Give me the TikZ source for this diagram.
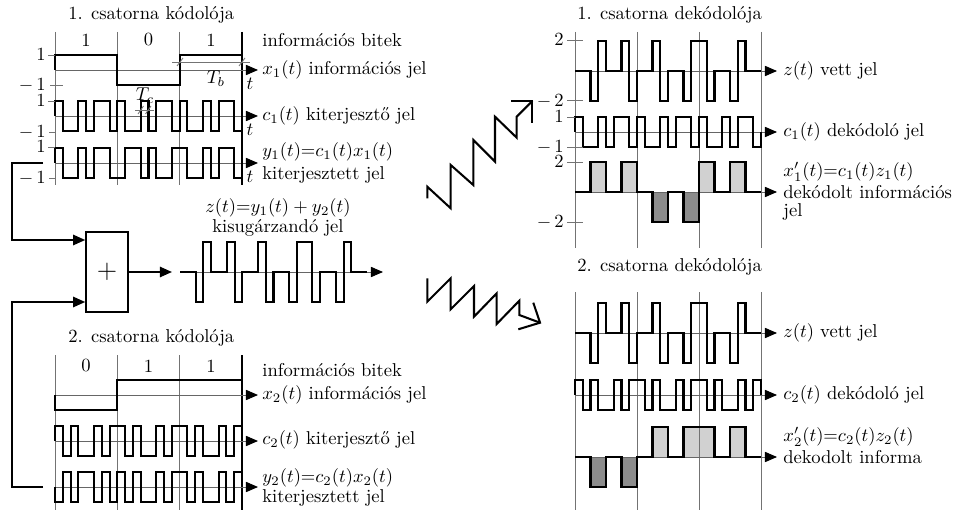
\documentclass[tikz,border=0pt]{standalone}
\usetikzlibrary{arrows.meta,calc}
\newcommand\wave[6]{%
  \edef\wlist{#6}%
  \draw[sig] (#1,#2) foreach \v [count=\i] in \wlist { |- ({#1+\i*#4},{#2-\v*#3}) } |- ({#1+#5*#4},#2);
}
\newcommand\chipfill[6]{% x0,y0,chipw,height(signed px),style,list
  \foreach \k in {#6} { \fill[#5] ({#1+\k*#3},#2) rectangle ({#1+(\k+1)*#3},{#2-#4}); }
}
\begin{document}
\begin{tikzpicture}[x=0.538pt,y=-0.538pt,
  sig/.style={line width=1.1pt},
  gridl/.style={black!55,line width=0.45pt},
  axisl/.style={black!60,line width=0.5pt,-{Triangle[length=6.5pt,width=5.5pt,color=black]}},
  conn/.style={line width=1.1pt,-{Triangle[length=6.5pt,width=5.5pt]}},
  zig/.style={line width=1.1pt,line join=miter},
  lbl/.style={anchor=west,inner sep=0pt},
  tk/.style={anchor=east,inner sep=0pt},
  lightf/.style={fill=black!18},
  darkf/.style={fill=black!45}]
\useasboundingbox (0,0) rectangle (961,510);
\def\cA{1,-1,-1,1,-1,1,1,-1, 1,-1,-1,1,-1,1,1,-1, 1,-1,-1,1,-1,1,1,-1}
\def\cB{1,-1,1,-1,-1,1,-1,1, 1,-1,1,-1,-1,1,-1,1, 1,-1,1,-1,-1,1,-1,1}
\def\yA{1,-1,-1,1,-1,1,1,-1, -1,1,1,-1,1,-1,-1,1, 1,-1,-1,1,-1,1,1,-1}
\def\yB{-1,1,-1,1,1,-1,1,-1, 1,-1,1,-1,-1,1,-1,1, 1,-1,1,-1,-1,1,-1,1}
\def\zz{0,0,-2,2,0,0,2,-2, 0,0,2,-2,0,0,-2,2, 2,-2,0,0,-2,2,0,0}
\def\xA{0,0,2,2,0,0,2,2, 0,0,-2,-2,0,0,-2,-2, 2,2,0,0,2,2,0,0}
\def\xB{0,0,-2,-2,0,0,-2,-2, 0,0,2,2,0,0,2,2, 2,2,0,0,2,2,0,0}

% ================= Encoder 1 =================
\node[lbl] (e1title) at (68,15) {1. csatorna kódolója};
\foreach \x in {55,117.33,179.67} \draw[gridl] (\x,32) -- (\x,185);
\draw[line width=0.6pt] (242,32) -- (242,185);
\node (e1b1) at (86,40) {1};
\node (e1b2) at (148.5,40) {0};
\node (e1b3) at (211,40) {1};
\draw[axisl] (55,70) -- (258,70);
\draw[axisl] (55,116) -- (258,116);
\draw[axisl] (55,163) -- (258,163);
\wave{55}{70}{15}{62.33}{3}{1,-1,1}
\wave{55}{116}{15}{7.79}{24}{\cA}
\wave{55}{163}{15}{7.79}{24}{\yA}
\foreach \y in {55,101,147} \draw[gridl] (48,\y) -- (55,\y);
\draw[gridl] (50,85) -- (63,85);
\foreach \y in {132,178} \draw[gridl] (49,\y) -- (55,\y);
\node[tk] (e1p1) at (46,55) {$1$};
\node[tk] (e1m1) at (46,85) {$-\,1$};
\node[tk] (e1p2) at (46,101) {$1$};
\node[tk] (e1m2) at (46,132) {$-\,1$};
\node[tk] (e1p3) at (46,147) {$1$};
\node[tk] (e1m3) at (46,178) {$-\,1$};
\node (e1t1) at (250,84) {$t$};
\node (e1t2) at (250,130) {$t$};
\node (e1t3) at (250,177) {$t$};
% T_b and T_c
\draw[gridl] (172,62) -- (250,62);
\draw[gridl] (177,66) -- (183,58);
\draw[gridl] (239,66) -- (245,58);
\node (tb) at (216,79) {$T_b$};
\draw[gridl] (135,110) -- (154,110);
\draw[gridl] (138,114) -- (143.5,106);
\draw[gridl] (145.5,114) -- (151,106);
\node (tc) at (145,96) {$T_c$};
% labels
\node[lbl] (e1l0) at (262,40) {információs bitek};
\node[lbl] (e1l1) at (262,70) {$x_1(t)$ információs jel};
\node[lbl] (e1l2) at (262,116) {$c_1(t)$ kiterjesztő jel};
\node[lbl] (e1l3) at (262,152) {$y_1(t){=}c_1(t)x_1(t)$};
\node[lbl] (e1l4) at (262,175) {kiterjesztett jel};

% ================= Adder =================
\node[draw,line width=0.8pt,minimum width=22.6pt,minimum height=43pt,inner sep=0pt] (adder) at (107,272) {\Large$+$};
\coordinate (y1out) at (43,163);
\coordinate (y2out) at (43,487);
\draw[conn] (y1out) -- (12,163) -- (12,240) -- ($(adder.west)+(0,-32)$);
\draw[conn] (y2out) -- (12,487) -- (12,302) -- ($(adder.west)+(0,30)$);
\coordinate (zin) at (172,272);
\draw[conn] (adder.east) -- (zin);
\draw[axisl] (180,272) -- (383,272);
\wave{180}{272}{15}{7.79}{24}{\zz}
\node (zl1) at (278,208) {$z(t){=}y_1(t)+y_2(t)$};
\node (zl2) at (278,228) {kisugárzandó jel};

% ================= Encoder 2 =================
\node[lbl] (e2title) at (68,338) {2. csatorna kódolója};
\foreach \x in {55,117.33,179.67} \draw[gridl] (\x,355) -- (\x,510);
\draw[line width=0.6pt] (242,355) -- (242,510);
\node (e2b1) at (86,366) {0};
\node (e2b2) at (148.5,366) {1};
\node (e2b3) at (211,366) {1};
\draw[axisl] (55,395) -- (258,395);
\draw[axisl] (55,441) -- (258,441);
\draw[axisl] (55,487) -- (258,487);
\wave{55}{395}{15}{62.33}{3}{-1,1,1}
\wave{55}{441}{15}{7.79}{24}{\cB}
\wave{55}{487}{15}{7.79}{24}{\yB}
\node[lbl] (e2l0) at (262,370) {információs bitek};
\node[lbl] (e2l1) at (262,395) {$x_2(t)$ információs jel};
\node[lbl] (e2l2) at (262,440) {$c_2(t)$ kiterjesztő jel};
\node[lbl] (e2l3) at (262,478) {$y_2(t){=}c_2(t)x_2(t)$};
\node[lbl] (e2l4) at (262,498) {kiterjesztett jel};

% ================= zigzag "radio" arrows =================
\draw[zig] (427.3,198.3) -- (427.3,186.7) -- (450.7,208.3) -- (450.7,165) -- (473.3,185) -- (473.3,140) -- (495,161.7) -- (495,116.7) -- (516.7,137.7) -- (516.7,116.7) -- (532.3,101);
\draw[zig] (511,101) -- (532.3,101) -- (532.3,123.3);
\draw[zig] (427.3,278.3) -- (427.3,301.7) -- (450.7,278.3) -- (450.7,309.3) -- (474,286) -- (474,316.7) -- (496.7,293.3) -- (496.7,324) -- (519.3,300.7) -- (519.3,315) -- (540,322.7);
\draw[zig] (533.3,302.7) -- (540,322.7) -- (518.3,329.3);

% ================= Decoder 1 =================
\node[lbl] (d1title) at (577,15) {1. csatorna dekódolója};
\chipfill{575}{192}{7.75}{30}{lightf}{2,3,6,7,16,17,20,21}
\chipfill{575}{192}{7.75}{-30}{darkf}{10,11,14,15}
\foreach \x in {575,637,699,761} \draw[gridl] (\x,32) -- (\x,248);
\draw[axisl] (575,71) -- (777,71);
\draw[axisl] (575,132) -- (777,132);
\draw[axisl] (575,192) -- (777,192);
\wave{575}{71}{15}{7.75}{24}{\zz}
\wave{575}{132}{15}{7.75}{24}{\cA}
\wave{575}{192}{15}{7.75}{24}{\xA}
\foreach \y in {40,100,147,162,222} \draw[gridl] (567,\y) -- (583,\y);
\draw[gridl] (567,117) -- (575,117);
\node[tk] (d1a) at (564,40) {$2$};
\node[tk] (d1b) at (564,101) {$-\,2$};
\node[tk] (d1c) at (564,117) {$1$};
\node[tk] (d1d) at (564,147) {$-\,1$};
\node[tk] (d1e) at (564,162) {$2$};
\node[tk] (d1f) at (564,222) {$-\,2$};
\node[lbl] (d1l1) at (783,71) {$z(t)$ vett jel};
\node[lbl] (d1l2) at (783,132) {$c_1(t)$ dekódoló jel};
\node[lbl] (d1l3) at (783,172) {$x_1'(t){=}c_1(t)z_1(t)$};
\node[lbl] (d1l4) at (783,192) {dekódolt információs};
\node[lbl] (d1l5) at (783,212) {jel};

% ================= Decoder 2 =================
\node[lbl] (d2title) at (577,267) {2. csatorna dekódolója};
\chipfill{575}{457}{7.75}{-30}{darkf}{2,3,6,7}
\chipfill{575}{457}{7.75}{30}{lightf}{10,11,14,15,16,17,20,21}
\foreach \x in {575,637,699,761} \draw[gridl] (\x,292) -- (\x,510);
\draw[axisl] (575,333) -- (777,333);
\draw[axisl] (575,395) -- (777,395);
\draw[axisl] (575,457) -- (777,457);
\wave{575}{333}{15}{7.75}{24}{\zz}
\wave{575}{395}{15}{7.75}{24}{\cB}
\wave{575}{457}{15}{7.75}{24}{\xB}
\node[lbl] (d2l1) at (783,333) {$z(t)$ vett jel};
\node[lbl] (d2l2) at (783,395) {$c_2(t)$ dekódoló jel};
\node[lbl] (d2l3) at (783,437) {$x_2'(t){=}c_2(t)z_2(t)$};
\node[lbl] (d2l4) at (783,457) {dekodolt informa};
\end{tikzpicture}
\end{document}
